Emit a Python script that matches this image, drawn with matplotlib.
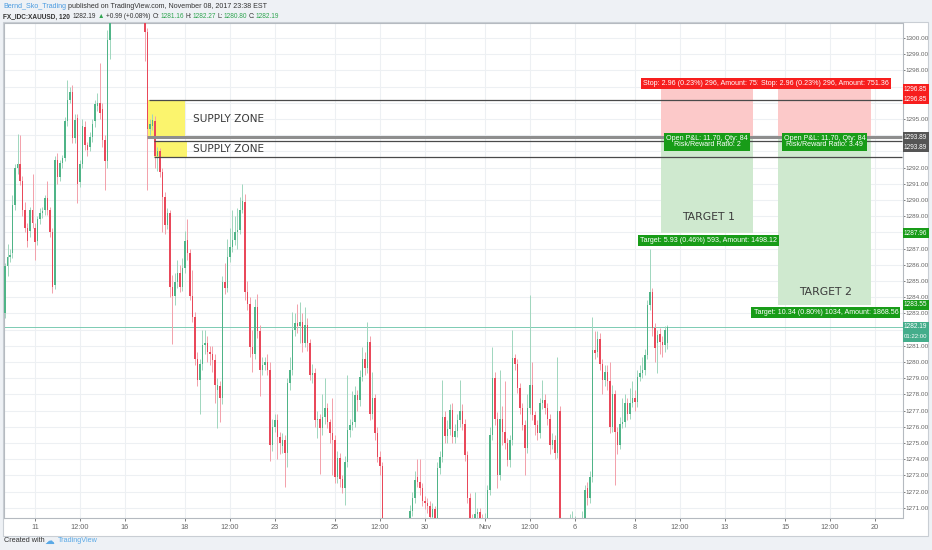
import numpy as np
import matplotlib
matplotlib.use("Agg")
import matplotlib.pyplot as plt
from matplotlib.patches import Rectangle
import matplotlib.transforms as mtransforms

SANS = ["Liberation Sans", "DejaVu Sans"]
plt.rcParams["font.family"] = SANS

# ---------------- data (XAUUSD, 120 min candles, from Oct 10 2017) ----------------
opens = [
    1283.0, 1285.9, 1286.5, 1286.7, 1289.7, 1292.0, 1292.2, 1291.2, 1289.4, 1288.3,
    1288.1, 1289.4, 1288.3, 1287.5, 1288.8, 1289.2, 1289.4, 1290.1, 1289.4, 1288.0,
    1284.75, 1292.5, 1291.4, 1292.3, 1292.6, 1294.85, 1296.2, 1296.7, 1293.8, 1295.05,
    1291.1, 1292.25, 1294.5, 1293.4, 1293.3, 1293.9, 1294.85, 1295.8, 1296.0, 1295.65,
    1293.7, 1292.4, 1299.9, 1301.4, 1302.6, 1303.4, 1302.9, 1304.1, 1305.2, 1304.7,
    1304.0, 1304.5, 1303.6, 1303.9, 1303.1, 1302.4, 1302.0, 1300.4, 1294.4, 1294.6,
    1294.85, 1292.7, 1293.0, 1291.75, 1290.2, 1288.45, 1289.2, 1284.65, 1284.1, 1284.95,
    1285.5, 1284.65, 1285.8, 1287.55, 1286.7, 1284.1, 1282.8, 1280.2, 1278.9, 1279.9,
    1281.05, 1281.15, 1280.6, 1280.5, 1280.1, 1278.3, 1278.5, 1277.75, 1284.95, 1284.55,
    1286.5, 1287.1, 1287.55, 1288.05, 1288.15, 1289.4, 1289.9, 1284.35, 1283.6, 1280.95,
    1280.5, 1283.4, 1281.9, 1279.5, 1279.8, 1280.0, 1279.5, 1274.9, 1276.0, 1276.4,
    1275.4, 1274.8, 1275.2, 1274.4, 1278.7, 1279.5, 1281.95, 1282.4, 1282.2, 1282.5,
    1281.15, 1282.3, 1281.15, 1279.2, 1279.3, 1276.4, 1276.5, 1275.9, 1276.6, 1277.15,
    1276.3, 1275.6, 1275.2, 1272.9, 1274.05, 1272.8, 1272.2, 1273.85, 1275.8, 1276.1,
    1276.3, 1277.95, 1277.65, 1279.1, 1280.2, 1279.6, 1281.25, 1276.8, 1277.75, 1275.6,
    1274.15, 1273.55, 1269.8, 1268.9, 1267.8, 1266.9, 1267.6, 1266.8, 1267.9, 1268.5,
    1269.1, 1269.4, 1270.0, 1270.8, 1271.6, 1272.9, 1272.6, 1272.2, 1271.4, 1271.3,
    1271.1, 1270.45, 1270.9, 1270.4, 1273.45, 1274.15, 1276.6, 1275.45, 1275.85, 1277.05,
    1275.35, 1275.75, 1276.4, 1277.0, 1276.2, 1274.25, 1271.6, 1270.3, 1270.2, 1270.6,
    1270.75, 1270.35, 1270.1, 1270.2, 1272.1, 1275.5, 1279.0, 1276.5, 1273.0, 1276.5,
    1275.7, 1275.0, 1273.95, 1275.2, 1280.25, 1279.9, 1278.4, 1277.15, 1276.1, 1274.7,
    1277.15, 1278.6, 1276.75, 1276.1, 1275.6, 1277.45, 1277.65, 1277.15, 1276.5, 1274.9,
    1275.2, 1274.4, 1277.0, 1270.0, 1268.6, 1267.4, 1265.8, 1266.9, 1268.3, 1268.9,
    1269.4, 1270.0, 1270.3, 1272.2, 1271.6, 1272.9, 1280.75, 1280.6, 1281.45, 1279.9,
    1278.9, 1279.4, 1278.8, 1276.0, 1278.0, 1275.7, 1274.9, 1276.2, 1276.3, 1277.45,
    1276.8, 1277.45, 1277.75, 1277.55, 1279.1, 1279.3, 1279.5, 1280.45, 1283.5, 1284.35,
    1282.1, 1281.15, 1281.75, 1281.25, 1281.05, 1281.16,
]
highs = [
    1286.1, 1287.3, 1287.0, 1290.3, 1292.2, 1294.1, 1294.0, 1291.5, 1289.9, 1288.6,
    1289.6, 1291.6, 1288.6, 1289.0, 1289.5, 1289.6, 1290.3, 1291.2, 1289.6, 1288.3,
    1292.7, 1292.9, 1292.5, 1292.8, 1295.1, 1297.4, 1297.0, 1297.1, 1295.3, 1295.3,
    1292.5, 1295.0, 1294.9, 1293.6, 1294.2, 1295.0, 1296.2, 1296.6, 1298.45, 1296.0,
    1294.0, 1300.5, 1301.9, 1303.2, 1304.0, 1303.9, 1304.6, 1305.8, 1306.0, 1305.1,
    1304.9, 1304.8, 1304.3, 1304.2, 1303.4, 1302.8, 1302.3, 1300.6, 1295.0, 1295.3,
    1295.2, 1293.3, 1293.2, 1292.0, 1290.5, 1289.5, 1289.4, 1285.4, 1285.5, 1286.3,
    1286.0, 1286.4, 1288.1, 1288.8, 1287.0, 1285.7, 1283.1, 1280.6, 1280.2, 1282.0,
    1282.0, 1281.6, 1281.0, 1281.0, 1280.5, 1279.0, 1278.8, 1285.3, 1286.1, 1287.6,
    1288.3, 1289.4, 1289.0, 1289.5, 1290.2, 1291.0, 1290.4, 1285.0, 1284.0, 1282.0,
    1283.9, 1284.2, 1282.3, 1280.3, 1280.3, 1280.5, 1280.0, 1276.5, 1276.8, 1276.8,
    1275.7, 1275.6, 1275.5, 1279.0, 1280.3, 1283.1, 1283.0, 1283.6, 1283.7, 1283.0,
    1283.4, 1282.7, 1281.4, 1279.9, 1279.6, 1277.0, 1276.8, 1278.0, 1279.0, 1277.5,
    1276.5, 1277.8, 1275.5, 1274.5, 1274.4, 1273.0, 1274.2, 1279.2, 1276.5, 1278.2,
    1278.5, 1278.3, 1279.5, 1280.9, 1280.6, 1282.5, 1281.6, 1279.4, 1278.0, 1276.0,
    1274.5, 1273.8, 1270.1, 1269.2, 1268.1, 1268.0, 1267.9, 1268.3, 1269.0, 1269.6,
    1269.9, 1270.2, 1271.2, 1272.0, 1273.3, 1274.0, 1274.0, 1272.5, 1271.7, 1271.6,
    1271.4, 1271.3, 1271.1, 1273.8, 1274.5, 1278.9, 1277.0, 1276.4, 1277.4, 1277.5,
    1276.2, 1276.8, 1278.9, 1277.4, 1276.5, 1274.5, 1271.9, 1270.6, 1272.0, 1271.0,
    1271.0, 1270.6, 1270.7, 1272.4, 1276.0, 1280.9, 1279.4, 1276.9, 1279.5, 1277.3,
    1278.8, 1275.3, 1275.5, 1282.0, 1280.5, 1280.2, 1278.7, 1277.5, 1276.4, 1278.0,
    1284.15, 1280.0, 1277.0, 1276.4, 1277.8, 1278.9, 1278.0, 1277.5, 1276.8, 1275.6,
    1275.5, 1280.3, 1277.3, 1270.2, 1269.0, 1267.8, 1270.6, 1270.8, 1270.5, 1270.1,
    1270.3, 1270.8, 1272.4, 1272.6, 1273.3, 1282.8, 1281.9, 1281.9, 1281.8, 1280.2,
    1279.8, 1279.8, 1280.0, 1278.6, 1278.3, 1276.0, 1276.6, 1277.8, 1278.0, 1277.8,
    1278.4, 1278.8, 1278.3, 1279.5, 1279.8, 1280.3, 1280.8, 1283.8, 1287.0, 1284.6,
    1282.4, 1282.0, 1282.1, 1281.6, 1282.2, 1282.27,
]
lows = [
    1282.7, 1285.3, 1286.2, 1286.4, 1289.4, 1291.6, 1290.9, 1289.0, 1288.0, 1287.1,
    1287.7, 1288.3, 1286.3, 1287.2, 1288.5, 1288.9, 1289.1, 1289.1, 1287.7, 1284.25,
    1284.5, 1291.0, 1291.2, 1292.0, 1292.4, 1294.6, 1296.0, 1293.5, 1293.5, 1289.8,
    1290.8, 1292.0, 1293.1, 1292.7, 1293.0, 1293.6, 1294.5, 1295.5, 1295.0, 1293.3,
    1290.6, 1292.0, 1298.7, 1301.2, 1302.2, 1302.4, 1302.6, 1303.8, 1304.2, 1303.5,
    1303.6, 1303.2, 1303.1, 1302.6, 1301.9, 1301.5, 1298.6, 1290.6, 1294.0, 1294.3,
    1292.0, 1291.8, 1291.4, 1288.0, 1287.9, 1288.2, 1284.0, 1281.1, 1283.5, 1284.6,
    1284.3, 1284.4, 1285.5, 1286.3, 1283.8, 1282.5, 1279.8, 1278.5, 1276.8, 1279.5,
    1280.5, 1280.0, 1279.8, 1279.4, 1277.5, 1275.9, 1276.3, 1277.4, 1284.2, 1284.3,
    1286.2, 1286.8, 1287.2, 1287.0, 1287.9, 1289.2, 1283.8, 1283.2, 1280.3, 1279.4,
    1280.2, 1281.5, 1277.9, 1279.2, 1279.5, 1279.2, 1273.9, 1274.5, 1275.7, 1274.0,
    1274.3, 1274.4, 1272.3, 1273.5, 1278.3, 1279.2, 1281.6, 1281.8, 1281.2, 1280.6,
    1280.9, 1280.7, 1278.9, 1278.7, 1276.0, 1275.3, 1273.1, 1275.5, 1276.2, 1275.9,
    1275.0, 1273.0, 1272.5, 1272.5, 1272.3, 1271.9, 1271.2, 1273.5, 1275.4, 1275.8,
    1276.0, 1277.0, 1277.3, 1278.8, 1279.2, 1279.3, 1276.4, 1276.5, 1275.2, 1273.8,
    1273.0, 1269.5, 1268.5, 1267.3, 1266.4, 1266.5, 1266.2, 1266.5, 1267.6, 1268.2,
    1268.8, 1269.1, 1269.5, 1270.5, 1271.3, 1272.3, 1271.8, 1271.1, 1270.9, 1270.7,
    1270.1, 1270.0, 1269.9, 1270.0, 1273.1, 1273.8, 1275.0, 1275.0, 1275.5, 1275.0,
    1275.0, 1275.4, 1276.0, 1275.8, 1273.9, 1271.3, 1269.8, 1269.6, 1269.9, 1270.3,
    1269.9, 1269.5, 1269.6, 1269.9, 1271.8, 1275.2, 1276.1, 1272.2, 1272.7, 1274.9,
    1274.6, 1273.6, 1273.5, 1274.9, 1279.5, 1278.1, 1276.8, 1275.8, 1273.0, 1274.4,
    1276.8, 1276.4, 1275.5, 1275.2, 1275.3, 1277.1, 1276.8, 1276.1, 1274.3, 1274.6,
    1274.0, 1274.1, 1269.6, 1268.2, 1267.0, 1264.9, 1265.5, 1266.5, 1267.9, 1268.5,
    1269.0, 1269.7, 1270.0, 1271.2, 1271.3, 1272.6, 1280.2, 1280.3, 1279.5, 1278.0,
    1278.5, 1278.3, 1275.6, 1275.7, 1272.4, 1274.3, 1274.6, 1275.9, 1276.0, 1276.4,
    1276.5, 1277.2, 1277.0, 1277.2, 1278.8, 1279.0, 1279.2, 1280.2, 1283.2, 1281.6,
    1280.0, 1279.3, 1280.5, 1280.3, 1280.6, 1280.80,
]
closes = [
    1285.9, 1286.5, 1286.6, 1289.7, 1292.0, 1292.2, 1291.2, 1289.4, 1288.25, 1287.5,
    1289.4, 1288.6, 1287.4, 1288.8, 1289.2, 1289.3, 1290.1, 1289.4, 1288.0, 1284.65,
    1292.5, 1291.4, 1292.3, 1292.6, 1294.85, 1296.2, 1296.7, 1293.8, 1294.95, 1291.0,
    1292.25, 1294.6, 1293.4, 1293.1, 1293.9, 1294.7, 1295.9, 1296.0, 1295.35, 1293.7,
    1292.4, 1299.9, 1301.4, 1302.6, 1303.4, 1302.9, 1304.1, 1305.2, 1304.7, 1304.0,
    1304.5, 1303.6, 1303.9, 1303.1, 1302.4, 1302.0, 1300.4, 1294.4, 1294.7, 1294.95,
    1292.7, 1293.0, 1291.75, 1290.2, 1288.45, 1289.2, 1284.65, 1284.1, 1284.95, 1285.5,
    1284.65, 1285.8, 1287.5, 1286.7, 1284.1, 1282.8, 1280.2, 1278.9, 1279.9, 1281.05,
    1281.15, 1280.6, 1280.5, 1280.1, 1278.6, 1278.6, 1277.75, 1284.95, 1284.55, 1286.5,
    1287.1, 1287.55, 1288.05, 1288.15, 1289.4, 1289.95, 1284.35, 1283.6, 1280.95, 1280.5,
    1283.4, 1281.9, 1279.5, 1279.8, 1280.0, 1279.5, 1274.9, 1276.0, 1276.4, 1275.4,
    1275.0, 1275.2, 1274.4, 1278.7, 1279.5, 1281.95, 1282.4, 1282.2, 1282.5, 1281.15,
    1282.3, 1281.15, 1279.2, 1279.3, 1276.4, 1276.5, 1275.9, 1276.6, 1277.15, 1276.3,
    1275.6, 1275.2, 1272.9, 1274.05, 1272.8, 1272.2, 1273.85, 1275.8, 1276.1, 1276.3,
    1277.95, 1277.65, 1279.1, 1280.2, 1279.6, 1281.25, 1276.8, 1277.75, 1275.6, 1274.15,
    1273.55, 1269.8, 1268.9, 1267.8, 1266.9, 1267.6, 1266.8, 1267.9, 1268.5, 1269.1,
    1269.4, 1270.0, 1270.8, 1271.6, 1272.7, 1272.6, 1272.2, 1271.4, 1271.3, 1271.1,
    1270.45, 1270.9, 1270.4, 1273.45, 1274.15, 1276.6, 1275.45, 1275.85, 1277.05, 1275.35,
    1275.75, 1276.4, 1277.0, 1276.2, 1274.25, 1271.6, 1270.2, 1270.0, 1270.6, 1270.75,
    1270.35, 1270.1, 1270.3, 1272.1, 1275.5, 1279.0, 1276.5, 1273.0, 1276.5, 1275.7,
    1275.0, 1273.95, 1275.2, 1280.25, 1279.9, 1278.4, 1277.15, 1276.1, 1274.7, 1277.15,
    1278.6, 1276.75, 1276.1, 1275.6, 1277.45, 1277.65, 1277.15, 1276.5, 1274.9, 1275.2,
    1274.4, 1277.0, 1270.0, 1268.6, 1267.4, 1265.8, 1266.9, 1268.3, 1268.9, 1269.4,
    1270.0, 1270.4, 1272.1, 1271.6, 1272.9, 1280.75, 1280.55, 1281.45, 1279.9, 1278.9,
    1279.4, 1278.8, 1276.0, 1278.0, 1275.7, 1274.9, 1276.2, 1276.3, 1277.45, 1276.8,
    1277.45, 1277.75, 1277.55, 1279.1, 1279.3, 1279.5, 1280.45, 1283.5, 1284.35, 1282.1,
    1280.85, 1281.65, 1281.25, 1281.05, 1281.95, 1282.19,
]

first_session = "2017-10-10"
candles_per_day = 12
tick_labels = ["11", "12:00", "16", "18", "12:00", "23", "25", "12:00", "30", "Nov",
               "12:00", "6", "8", "12:00", "13", "15", "12:00", "20"]
tick_days = ["2017-10-11", "2017-10-12", "2017-10-16", "2017-10-18", "2017-10-19",
             "2017-10-23", "2017-10-25", "2017-10-26", "2017-10-30", "2017-11-01",
             "2017-11-02", "2017-11-06", "2017-11-08", "2017-11-09", "2017-11-13",
             "2017-11-15", "2017-11-16", "2017-11-20"]
tick_hours = [0, 12, 0, 0, 12, 0, 0, 12, 0, 0, 12, 0, 0, 12, 0, 0, 12, 0]

# drawing levels
supply1 = (1293.85, 1296.20)
supply2 = (1292.65, 1293.65)
entry = 1293.89
stop = 1296.85
target1 = 1287.96
target2 = 1283.55
last_price = 1282.19
price_ticks = np.arange(1271, 1301, 1)
hidden_ticks = [1297, 1296, 1294, 1293, 1288, 1282]   # covered by coloured labels

# ---------------- figure ----------------
W, H = 932, 550
fig = plt.figure(figsize=(W / 100, H / 100), dpi=100)
fig.patch.set_facecolor("#eef1f5")


def fx(px):
    return px / W


def fy(py):
    return 1 - py / H


fig.add_artist(Rectangle((fx(3), fy(536)), fx(928) - fx(3), fy(22) - fy(536),
                         transform=fig.transFigure, facecolor="white",
                         edgecolor="#c9ced4", lw=0.8, zorder=-5))

ax = fig.add_axes([fx(3.5), fy(518), fx(902.5) - fx(3.5), fy(23) - fy(518)])
ax.set_facecolor("white")
ax.set_xlim(-0.6, 359.0)
ax.set_ylim(1270.37, 1300.93)

O = np.array(opens); Hh = np.array(highs); L = np.array(lows); C = np.array(closes)
x = np.arange(len(C))
up = C >= O
body_col = np.where(up, "#4fb487", "#e9485a")
wick_col = np.where(up, "#9fd6bd", "#f3a0aa")
ax.vlines(x, L, Hh, colors=wick_col, lw=0.7, zorder=2)
bottoms = np.minimum(O, C)
heights = np.maximum(np.abs(C - O), 0.07)
ax.bar(x, heights, bottom=bottoms, width=0.72, color=body_col, lw=0, zorder=3)

# ticks and grid
start = np.datetime64(first_session)
tick_pos = [np.busday_count(start, np.datetime64(d)) * candles_per_day + h / 2
            for d, h in zip(tick_days, tick_hours)]
ax.set_xticks(tick_pos)
ax.set_xticklabels(tick_labels)
ax.set_yticks(price_ticks)
ax.set_yticklabels(["" if v in hidden_ticks else f"{v:.2f}" for v in price_ticks])
ax.yaxis.tick_right()
ax.tick_params(axis="y", length=1.5, pad=1.0, labelsize=4.6, colors="#666666", width=0.6)
ax.tick_params(axis="x", length=2, pad=2.2, labelsize=5.3, colors="#666666", width=0.6)
ax.grid(True, color="#edf0f3", lw=0.8, zorder=0)
ax.set_axisbelow(True)
for s in ax.spines.values():
    s.set_color("#b5bac0")
    s.set_linewidth(0.8)

# current price line
ax.axhline(last_price, color="#7ccbb3", lw=0.7, zorder=1)

# supply zones
ax.add_patch(Rectangle((57.4, supply1[0]), 72.0 - 57.4, supply1[1] - supply1[0],
                       facecolor="#fbf46d", edgecolor="none", zorder=1))
ax.add_patch(Rectangle((59.6, supply2[0]), 72.8 - 59.6, supply2[1] - supply2[0],
                       facecolor="#fbf46d", edgecolor="none", zorder=1))
ax.hlines(entry, 56.7, 359, color="#8e8e8e", lw=2.2, zorder=4)
ax.hlines(supply1[1], 57.6, 359, color="#4a4a4a", lw=0.9, zorder=4)
ax.hlines(supply2[0], 59.6, 359, color="#4a4a4a", lw=0.9, zorder=4)
ax.hlines(supply2[1], 59.6, 359, color="#4a4a4a", lw=0.9, zorder=4)
ax.text(75.2, sum(supply1) / 2, "SUPPLY ZONE", fontsize=7.6, color="#3a3a3a",
        family=["DejaVu Sans"], va="center", ha="left", zorder=5)
ax.text(75.2, sum(supply2) / 2, "SUPPLY ZONE", fontsize=7.6, color="#3a3a3a",
        family=["DejaVu Sans"], va="center", ha="left", zorder=5)

# position boxes
boxes = [(262.4, 299.2, target1, "2", "TARGET 1", 0.7, 16,
          "Target: 5.93 (0.46%) 593, Amount: 1498.12"),
         (309.2, 346.4, target2, "3.49", "TARGET 2", 0.6, 12.5,
          "Target: 10.34 (0.80%) 1034, Amount: 1868.56")]


def off(dx=0, dy=0):
    return mtransforms.offset_copy(ax.transData, fig=fig, x=dx, y=dy, units="dots")


LBL = 5.1
for x0, x1, tgt, rr, name, tdx, tdy, tlabel in boxes:
    ax.add_patch(Rectangle((x0, entry), x1 - x0, stop - entry,
                           facecolor="#fcc9c9", edgecolor="none", zorder=1.5))
    ax.add_patch(Rectangle((x0, tgt), x1 - x0, entry - tgt,
                           facecolor="#cfe9cf", edgecolor="none", zorder=1.5))
    cx = (x0 + x1) / 2
    ax.text(cx, stop, "Stop: 2.96 (0.23%) 296, Amount: 751.36", transform=off(0, 5.5),
            fontsize=LBL, color="white", ha="center", va="center", zorder=7,
            bbox=dict(boxstyle="square,pad=0.3", fc="#f71e1e", ec="none"))
    ax.text(cx, entry, "Open P&L: 11.70, Qty: 84\nRisk/Reward Ratio: " + rr,
            transform=off(0, -4.5), fontsize=LBL, color="white", ha="center",
            va="center", linespacing=0.95, zorder=7,
            bbox=dict(boxstyle="square,pad=0.3", fc="#189c18", ec="none"))
    ax.text(cx + tdx, tgt, tlabel, transform=off(0, -7.7), fontsize=LBL, color="white",
            ha="center", va="center", zorder=7,
            bbox=dict(boxstyle="square,pad=0.3", fc="#189c18", ec="none"))
    ax.text(cx + 0.5, tgt, name, transform=off(0, tdy), fontsize=7.8, color="#3a3a3a",
            family=["DejaVu Sans"], ha="center", va="center", zorder=6)

# price-axis labels
ident = mtransforms.IdentityTransform()


def axis_label(price, txt, col, dy=0, size=4.7):
    yd = ax.transData.transform((0, price))[1] - dy
    fig.add_artist(Rectangle((902.5, yd - 5), 26, 10, transform=ident,
                             facecolor=col, edgecolor="none", zorder=8))
    fig.text(915.5 / W, yd / H, txt, fontsize=size, color="white", ha="center",
             va="center", zorder=9)


axis_label(stop, "1296.85", "#f71e1e")
axis_label(stop, "1296.85", "#f71e1e", dy=10)
axis_label(entry, "1293.89", "#555555")
axis_label(entry, "1293.89", "#555555", dy=10)
axis_label(target1, "1287.96", "#189c18")
axis_label(target2, "1283.55", "#189c18")
axis_label(last_price, "1282.19", "#44ad8b")
axis_label(last_price, "01:22:00", "#44ad8b", dy=10, size=4.3)

# header
renderer = fig.canvas.get_renderer()


def chain(parts, x0, y, size):
    xx = x0
    for s, col, gap, wt in parts:
        t = fig.text(fx(xx), fy(y), s, color=col, fontsize=size, ha="left",
                     va="center", fontweight=wt)
        xx = t.get_window_extent(renderer).x1 + gap


dark = "#333333"
grn = "#2ea44f"
chain([("Bernd_Sko_Trading", "#4a9be0", 2.5, "normal"),
       ("published on TradingView.com, November 08, 2017 23:38 EST", dark, 0, "normal")],
      3, 6, 5.1)
chain([("FX_IDC:XAUUSD, 120", dark, 2.5, "bold"), ("1282.19", dark, 2, "normal"),
       ("▲", grn, 2, "normal"), ("+0.99 (+0.08%)", dark, 2.5, "normal"),
       ("O:", dark, 0.3, "normal"), ("1281.16", grn, 2, "normal"),
       ("H:", dark, 0.3, "normal"), ("1282.27", grn, 2, "normal"),
       ("L:", dark, 0.3, "normal"), ("1280.80", grn, 2, "normal"),
       ("C:", dark, 0.3, "normal"), ("1282.19", grn, 0, "normal")], 3, 17, 4.7)

# footer
fig.text(fx(4), fy(541), "Created with", fontsize=5.2, color="#333333", ha="left", va="center")
fig.text(fx(44), fy(541), "☁", fontsize=7, color="#5aa9e6", ha="left", va="center",
         family=["DejaVu Sans"])
fig.text(fx(58), fy(541), "TradingView", fontsize=5.2, color="#5aa9e6", ha="left", va="center")

fig.savefig("out.png", dpi=100, facecolor=fig.get_facecolor())
